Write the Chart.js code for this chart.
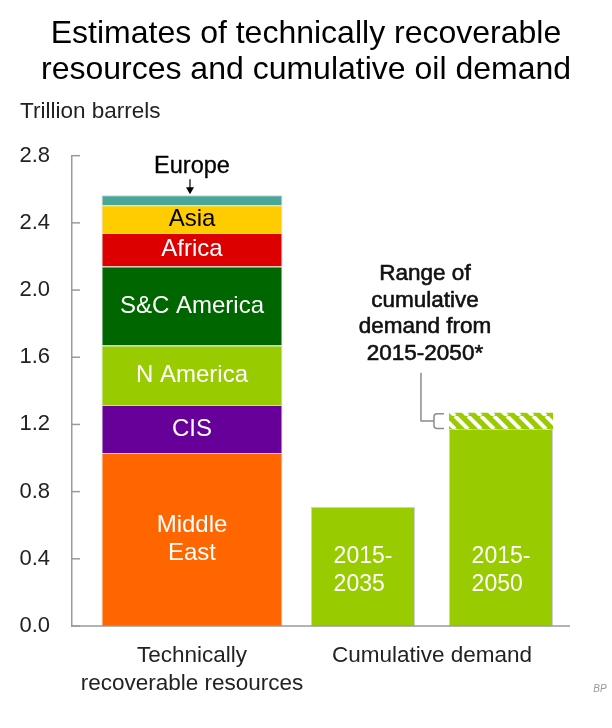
<!DOCTYPE html>
<html><head><meta charset="utf-8">
<script src="https://cdn.jsdelivr.net/npm/chart.js@4.4.1/dist/chart.umd.min.js"></script>
<style>html,body{margin:0;padding:0;background:#fff;}#wrap{width:612px;height:728px;}</style>
</head><body><div id="wrap"><canvas id="c" width="612" height="728"></canvas></div>
<script>
// ---- data ----
const titleLines = ['Estimates of technically recoverable', 'resources and cumulative oil demand'];
const unitLabel = 'Trillion barrels';
const categories = [['Technically', 'recoverable resources'], 'Cumulative demand'];
const yTicks = [0, 0.4, 0.8, 1.2, 1.6, 2.0, 2.4, 2.8];
const regions = ['Middle East', 'CIS', 'N America', 'S&C America', 'Africa', 'Asia', 'Europe'];
const regionLabelLines = [['Middle', 'East'], ['CIS'], ['N America'], ['S&C America'], ['Africa'], ['Asia'], ['Europe']];
const resourceValues = [1.03, 0.285, 0.355, 0.47, 0.20, 0.165, 0.06];
const demandPeriods = ['2015-2035', '2015-2050'];
const demandLabelLines = [['2015-', '2035'], ['2015-', '2050']];
const demandValues = [0.71, 1.17];
const demand2050High = 1.27;
const rangeNote = ['Range of', 'cumulative', 'demand from', '2015-2050*'];
const sourceNote = 'BP';

// ---- styles ----
const FONT = '"Liberation Sans", Arial, sans-serif';
const regionColors = ['#ff6600', '#660099', '#99cc00', '#006600', '#dd0000', '#ffcc00', '#4aa699'];
const regionTextColors = ['#fff', '#fff', '#fff', '#fff', '#fff', '#000', '#000'];
const demandColor = '#99cc00';
const edge = '#d2d2d2';
const axisGrey = '#9a9a9a';

const canvas = document.getElementById('c');
const ctx = canvas.getContext('2d');

function makeHatch() {
  const p = 13, c = document.createElement('canvas');
  c.width = p; c.height = p;
  const g = c.getContext('2d');
  g.fillStyle = demandColor; g.fillRect(0, 0, p, p);
  g.strokeStyle = '#fff'; g.lineWidth = 4;
  for (const k of [-1, 0, 1]) { g.beginPath(); g.moveTo(k * p, 0); g.lineTo(k * p + p, p); g.stroke(); }
  return ctx.createPattern(c, 'repeat');
}

const datasets = [];
regions.forEach((r, i) => {
  datasets.push({
    label: r, data: [resourceValues[i], null], stack: 'res',
    backgroundColor: regionColors[i], borderColor: edge, borderWidth: 1,
    categoryPercentage: 1, barPercentage: 0.754
  });
});
datasets.push({
  label: demandPeriods[0], data: [null, demandValues[0]], stack: 'd35',
  backgroundColor: demandColor, borderColor: edge, borderWidth: 1,
  categoryPercentage: 1.15, barPercentage: 0.754
});
datasets.push({
  label: demandPeriods[1], data: [null, demandValues[1]], stack: 'd50',
  backgroundColor: demandColor, borderColor: edge, borderWidth: {left: 1, right: 1, top: 0, bottom: 0},
  categoryPercentage: 1.15, barPercentage: 0.754
});
datasets.push({
  label: demandPeriods[1] + ' range', data: [null, demand2050High - demandValues[1]], stack: 'd50',
  backgroundColor: makeHatch(), borderWidth: 0,
  categoryPercentage: 1.15, barPercentage: 0.754
});

function drawLines(c, lines, x, cy, lh, align, strokeW) {
  const n = lines.length;
  lines.forEach((t, k) => {
    c.textAlign = align || 'center';
    const yy = cy + (k - (n - 1) / 2) * lh;
    c.fillText(t, x, yy);
    if (strokeW) { c.lineWidth = strokeW; c.strokeStyle = c.fillStyle; c.strokeText(t, x, yy); }
  });
}

const annotPlugin = {
  id: 'annot',
  afterDraw(chart) {
    const c = chart.ctx, ca = chart.chartArea, y = chart.scales.y;
    c.save();
    // baseline and inward ticks
    c.strokeStyle = axisGrey; c.lineWidth = 1.5;
    c.beginPath(); c.moveTo(ca.left, ca.bottom); c.lineTo(ca.right + 18, ca.bottom); c.stroke();
    yTicks.forEach(v => {
      const py = y.getPixelForValue(v);
      c.beginPath(); c.moveTo(ca.left, py); c.lineTo(ca.left + 8, py); c.stroke();
    });
    c.textBaseline = 'middle';
    c.lineJoin = 'round';
    // region labels
    regions.forEach((r, i) => {
      const el = chart.getDatasetMeta(i).data[0];
      c.fillStyle = regionTextColors[i];
      c.font = '24px ' + FONT;
      if (i === regions.length - 1) {
        const top = el.y;
        c.font = '23.5px ' + FONT;
        drawLines(c, regionLabelLines[i], el.x, top - 29, 28, 'center', 0.3);
        c.strokeStyle = '#000'; c.lineWidth = 1.2;
        c.beginPath(); c.moveTo(el.x - 2, top - 16); c.lineTo(el.x - 2, top - 6); c.stroke();
        c.fillStyle = '#000';
        c.beginPath(); c.moveTo(el.x - 6, top - 8); c.lineTo(el.x + 2, top - 8); c.lineTo(el.x - 2, top - 1); c.closePath(); c.fill();
      } else {
        drawLines(c, regionLabelLines[i], el.x, (el.y + el.base) / 2, 28, 'center', 0);
      }
    });
    // demand labels
    c.fillStyle = '#fff'; c.font = '23px ' + FONT;
    const labelY = y.getPixelForValue(0.33);
    [regions.length, regions.length + 1].forEach((di, k) => {
      const el = chart.getDatasetMeta(di).data[1];
      const lines = demandLabelLines[k];
      const w = Math.max(...lines.map(t => c.measureText(t).width));
      drawLines(c, lines, el.x - w / 2, labelY, 28, 'left');
    });
    // range bracket + note
    const hel = chart.getDatasetMeta(regions.length + 2).data[1];
    const top = hel.y, bot = hel.base, mid = (top + bot) / 2;
    const armR = hel.x - hel.width / 2 - 5, brL = armR - 10, leadX = brL - 13;
    c.strokeStyle = '#8c8c8c'; c.lineWidth = 1.5;
    c.beginPath();
    c.moveTo(armR, top + 1); c.lineTo(brL + 3, top + 1); c.quadraticCurveTo(brL, top + 1, brL, top + 4);
    c.lineTo(brL, bot - 4); c.quadraticCurveTo(brL, bot - 1, brL + 3, bot - 1); c.lineTo(armR, bot - 1);
    c.stroke();
    const leadTop = top - 40;
    c.beginPath(); c.moveTo(leadX, leadTop); c.lineTo(leadX, mid); c.lineTo(brL, mid); c.stroke();
    c.fillStyle = '#111'; c.font = '22.5px ' + FONT;
    const lh = 26.5;
    drawLines(c, rangeNote, leadX + 4, leadTop - 19 - (rangeNote.length - 1) / 2 * lh, lh, 'center', 0.6);
    // source
    c.fillStyle = '#999'; c.font = 'italic 10px ' + FONT; c.textAlign = 'center';
    c.fillText(sourceNote, 600, 689);
    c.restore();
  }
};

new Chart(ctx, {
  type: 'bar',
  data: { labels: categories, datasets },
  options: {
    responsive: false, animation: false, devicePixelRatio: 1,
    skipNull: true,
    layout: { padding: { left: 20, right: 20, top: 0, bottom: 0 } },
    plugins: {
      legend: { display: false }, tooltip: { enabled: false },
      title: { display: true, text: titleLines, color: '#000',
        font: { family: FONT, size: 32, weight: 'normal', lineHeight: 1.12 }, padding: { top: 16, bottom: 0 } },
      subtitle: { display: true, text: unitLabel, align: 'start', color: '#222',
        font: { family: FONT, size: 22.5, lineHeight: 1.2 }, padding: { top: 11, bottom: 30 } }
    },
    datasets: { bar: { skipNull: true, clip: false } },
    scales: {
      x: { stacked: true, grid: { display: false, drawTicks: false }, border: { display: false },
        ticks: { color: '#222', font: { family: FONT, size: 22.5, lineHeight: 1.25 }, padding: 16, maxRotation: 0, autoSkip: false },
        afterFit(s) { s.height = 102; } },
      y: { stacked: true, min: 0, max: 2.8,
        afterBuildTicks(s) { s.ticks = yTicks.map(v => ({ value: v })); },
        ticks: { callback: v => Number(v).toFixed(1), color: '#222', font: { family: FONT, size: 22 }, padding: 22 },
        grid: { display: false, drawTicks: false }, border: { display: true, color: axisGrey, width: 1.5 },
        afterFit(s) { s.width = 52; } },
      yR: { type: 'linear', position: 'right', display: true, ticks: { display: false },
        grid: { display: false, drawTicks: false }, border: { display: false },
        afterFit(s) { s.width = 40; } }
    }
  },
  plugins: [annotPlugin]
});
</script></body></html>
